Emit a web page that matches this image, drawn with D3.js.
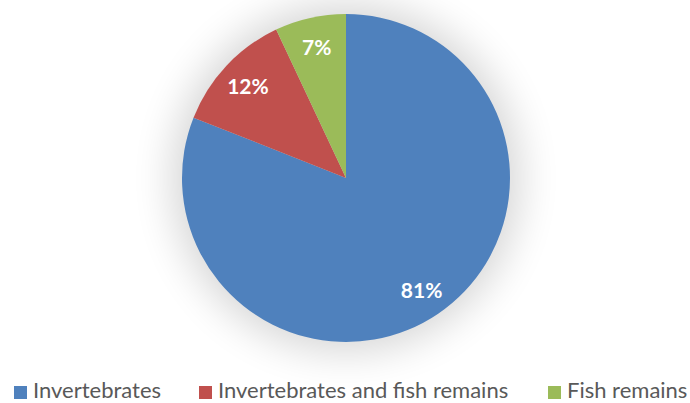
<!DOCTYPE html>
<html>
<head>
<meta charset="utf-8">
<script src="https://cdn.jsdelivr.net/npm/d3@7"></script>
<style>
  body { margin: 0; background: #fff; }
  svg { display: block; }
</style>
</head>
<body>
<svg id="chart" width="690" height="403"></svg>
<script>
// Diet composition shares (percent)
const categories = ["Invertebrates", "Invertebrates and fish remains", "Fish remains"];
const values = [81, 12, 7];
const colors = ["#4F81BD", "#C0504D", "#9BBB59"];

const width = 690, height = 403;
const cx = 346, cy = 178, radius = 164;

const svg = d3.select("#chart");

// soft halo under the pie
const defs = svg.append("defs");
const f = defs.append("filter").attr("id", "pieShadow")
  .attr("x", "-40%").attr("y", "-40%").attr("width", "180%").attr("height", "180%");
f.append("feGaussianBlur").attr("stdDeviation", 20);

const g = svg.append("g").attr("transform", `translate(${cx},${cy})`);

g.append("circle")
  .attr("cx", 0).attr("cy", 0).attr("r", radius + 10)
  .attr("fill", "#000").attr("opacity", 0.16)
  .attr("filter", "url(#pieShadow)");

const pie = d3.pie().sort(null).value(d => d.value);
const data = pie(categories.map((c, i) => ({ name: c, value: values[i], color: colors[i] })));

const arc = d3.arc().innerRadius(0).outerRadius(radius);
const labelArc = d3.arc().innerRadius(radius * 0.82).outerRadius(radius * 0.82);

g.selectAll("path.slice").data(data).enter().append("path")
  .attr("class", "slice")
  .attr("d", arc)
  .attr("fill", d => d.data.color);

g.selectAll("text.lbl").data(data).enter().append("text")
  .attr("class", "lbl")
  .attr("transform", d => `translate(${labelArc.centroid(d)})`)
  .attr("text-anchor", "middle")
  .attr("dominant-baseline", "central")
  .attr("fill", "#fff")
  .attr("font-family", "Lato, 'Open Sans', sans-serif")
  .attr("font-weight", "bold")
  .attr("font-size", 21)
  .text(d => d.data.value + "%");

// legend
const legendX = [14, 199, 548];
const legend = svg.append("g").attr("transform", "translate(0,398)");
const items = legend.selectAll("g.item").data(categories).enter().append("g")
  .attr("class", "item")
  .attr("transform", (d, i) => `translate(${legendX[i]},0)`);
items.append("rect")
  .attr("x", 0).attr("y", -12).attr("width", 13).attr("height", 13)
  .attr("fill", (d, i) => colors[i]);
items.append("text")
  .attr("x", 19).attr("y", 0)
  .attr("fill", "#595959")
  .attr("font-family", "Lato, 'Open Sans', sans-serif")
  .attr("font-size", 22)
  .text(d => d);
</script>
</body>
</html>
